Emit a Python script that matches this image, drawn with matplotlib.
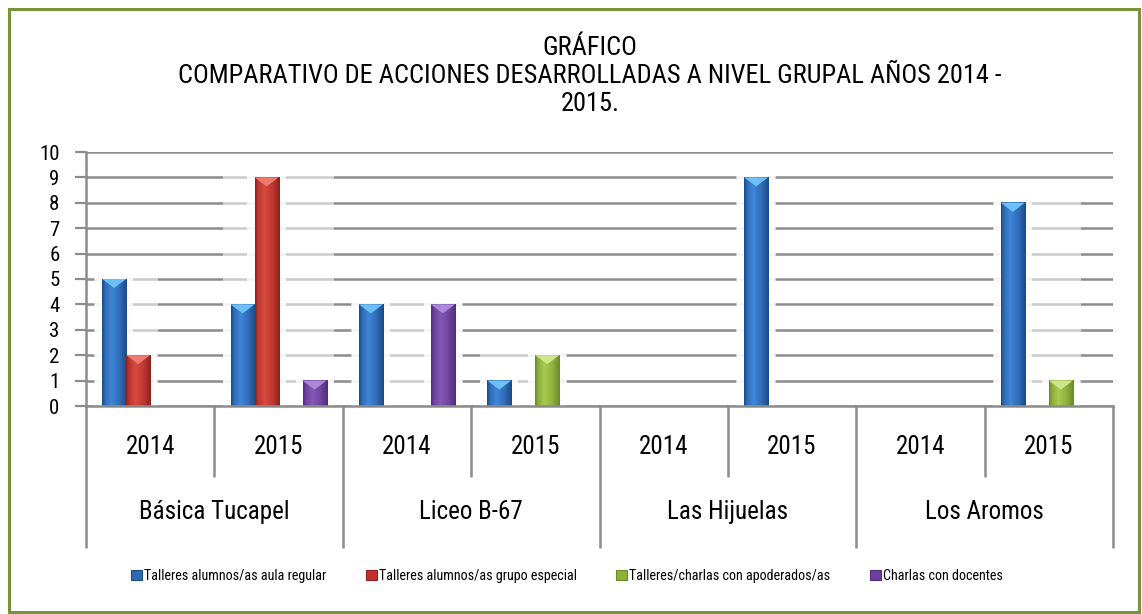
import numpy as np
import matplotlib
matplotlib.use("Agg")
import matplotlib.pyplot as plt
from matplotlib import font_manager
from matplotlib.patches import Rectangle, Polygon, Patch
from matplotlib.colors import to_rgb

# fuente angosta: la primera que esté instalada
nombres = {f.name for f in font_manager.fontManager.ttflist}
fuente = "DejaVu Sans"
for candidata in ["Liberation Sans Narrow", "Roboto Condensed", "Archivo Narrow"]:
    if candidata in nombres:
        fuente = candidata
        break
plt.rcParams["font.family"] = [fuente, "DejaVu Sans"]
if fuente == "DejaVu Sans":
    plt.rcParams["font.stretch"] = "condensed"

# datos
colegios = ["Básica Tucapel", "Liceo B-67", "Las Hijuelas", "Los Aromos"]
anios = ["2014", "2015"]
series = ["Talleres alumnos/as aula regular",
          "Talleres alumnos/as grupo especial",
          "Talleres/charlas con apoderados/as",
          "Charlas con docentes"]
aula_regular = [5, 4, 4, 1, 0, 9, 0, 8]
grupo_especial = [2, 9, 0, 0, 0, 0, 0, 0]
apoderados = [0, 0, 0, 2, 0, 0, 0, 1]
docentes = [0, 1, 4, 0, 0, 0, 0, 0]
valores = [aula_regular, grupo_especial, apoderados, docentes]

# colores: base, borde oscuro, centro claro, punta
colores = [("#2E6AB3", "#1B4A86", "#3F86D9", "#6CC0F5"),
           ("#C1302A", "#92201C", "#DA4A40", "#EE7A70"),
           ("#8CB23A", "#6A8A26", "#A6CB4E", "#CFE58A"),
           ("#6E3FA0", "#502C7D", "#8657B8", "#AE88D8")]

fig = plt.figure(figsize=(11.42, 6.14), dpi=100)
ax = fig.add_axes([86 / 1142, 208 / 614, (1113 - 86) / 1142, 254 / 614])

n = len(aula_regular)
x = np.arange(n)
ancho = 0.187
gris = "#8C8C8C"
px_y = 10 / 254  # unidades de datos por pixel vertical

def degradado(c_borde, c_centro):
    t = np.linspace(0, 1, 64)
    stops = [0.0, 0.12, 0.38, 0.7, 1.0]
    cb, cc = np.array(to_rgb(c_borde)), np.array(to_rgb(c_centro))
    mezcla = np.interp(t, stops, [0.0, 0.55, 1.0, 0.6, 0.0])
    return (cb[None, :] * (1 - mezcla[:, None]) + cc[None, :] * mezcla[:, None])[None, :, :]

# halo blanco detrás de cada grupo
for i in range(n):
    vals = [v[i] for v in valores]
    if max(vals) == 0:
        continue
    usados = [k for k, v in enumerate(vals) if v > 0]
    x0 = x[i] + (usados[0] - 2) * ancho - 0.06
    x1 = x[i] + (usados[-1] - 1) * ancho + 0.06
    ax.add_patch(Rectangle((x0, 0), x1 - x0, max(vals) + 0.15, facecolor="white",
                           alpha=0.55, edgecolor="none", zorder=1))

for k, (vals, nombre, col) in enumerate(zip(valores, series, colores)):
    barras = ax.bar(x + (k - 1.5) * ancho, vals, ancho, color=col[0], label=nombre, zorder=2)
    for b in barras:
        h = b.get_height()
        if h <= 0:
            continue
        bx, bw = b.get_x(), b.get_width()
        ax.add_patch(Rectangle((bx - 0.055, 0), bw + 0.11, h + 0.1, facecolor="white",
                               alpha=0.8, edgecolor="none", zorder=1.5))
        ax.imshow(degradado(col[1], col[2]), extent=(bx, bx + bw, 0, h), aspect="auto",
                  interpolation="bilinear", zorder=2.1)
        punta = min(9 * px_y, h * 0.8)
        ax.add_patch(Polygon([(bx, h), (bx + bw, h), (bx + bw / 2, h - punta)],
                             closed=True, facecolor=col[3], edgecolor="none", zorder=2.2))

ax.set_xlim(-0.5, n - 0.5)
ax.set_ylim(0, 10)
ax.set_yticks(range(0, 11))
ax.set_xticks([])
ax.yaxis.grid(True, color=gris, linewidth=1.8)
ax.set_axisbelow(True)
ax.tick_params(axis="y", length=8, width=1.6, color=gris, labelsize=15, pad=11)
for s in ["top", "right"]:
    ax.spines[s].set_visible(False)
for s in ["left", "bottom"]:
    ax.spines[s].set_color(gris)
    ax.spines[s].set_linewidth(1.8)

# eje de categorías en dos niveles
trans = ax.get_xaxis_transform()
y_anio = -(477 - 406) / 254
y_col = -(548 - 406) / 254
for i in range(n):
    ax.text(x[i], -(447 - 406) / 254, anios[i % 2], transform=trans, ha="center",
            va="center", fontsize=18)
for j, nombre in enumerate(colegios):
    ax.text(2 * j + 0.5, -(512 - 406) / 254, nombre, transform=trans, ha="center",
            va="center", fontsize=18)
for b in np.arange(-0.5, n, 1.0):
    fondo = y_col if (b + 0.5) % 2 == 0 else y_anio
    ax.plot([b, b], [0, fondo], transform=trans, color=gris, linewidth=1.8,
            clip_on=False, solid_capstyle="butt")

fig.text(590 / 1142, 1 - 76 / 614,
         "GRÁFICO\nCOMPARATIVO DE ACCIONES DESARROLLADAS A NIVEL GRUPAL AÑOS 2014 -\n2015.",
         ha="center", va="center", ma="center", fontsize=19, linespacing=1.2)

manejadores = [Patch(facecolor=c[0], edgecolor=c[1], linewidth=0.8) for c in colores]
fig.legend(manejadores, series, loc="center", bbox_to_anchor=(567 / 1142, 1 - 576 / 614),
           ncol=4, frameon=False, fontsize=10.2, handlelength=0.75, handleheight=0.75,
           handletextpad=0.15, columnspacing=2.8)

# marco verde
fig.patches.append(Rectangle((8.5 / 1142, 2.5 / 614), 1130 / 1142, 603 / 614,
                             transform=fig.transFigure, fill=False,
                             edgecolor="#77933C", linewidth=2.2))

fig.savefig("out.png", dpi=100, facecolor="white")
